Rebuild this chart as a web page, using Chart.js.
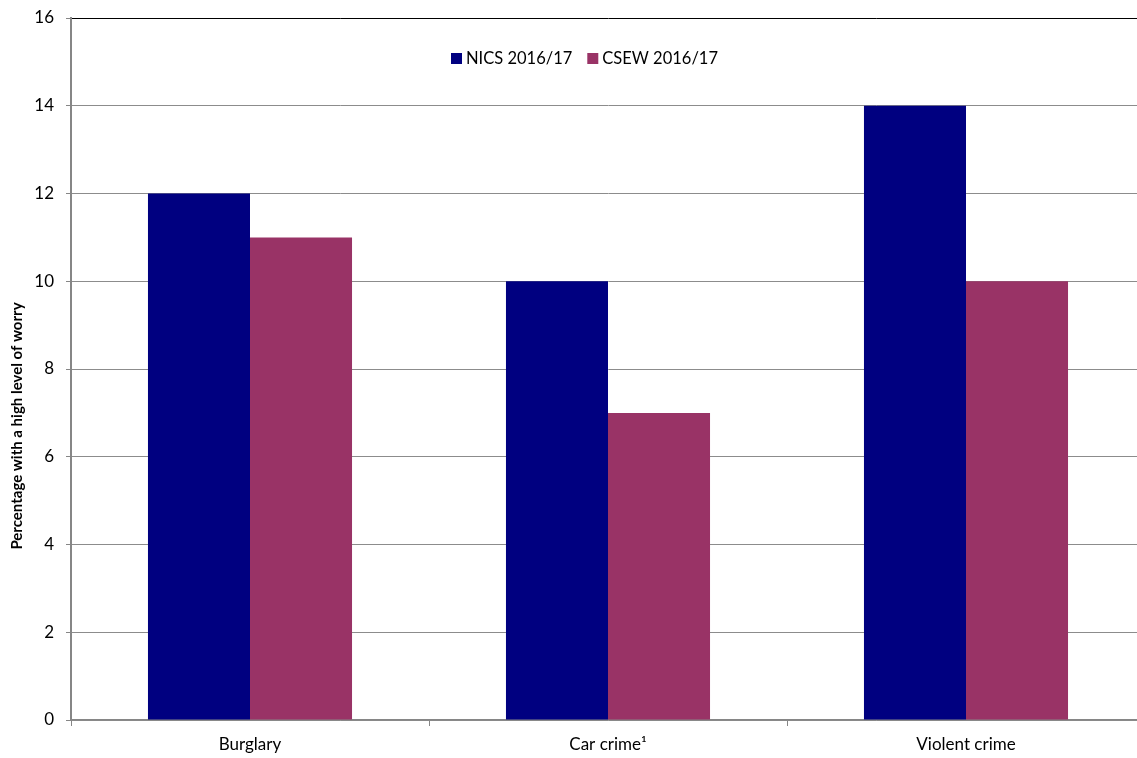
<!DOCTYPE html>
<html>
<head>
<meta charset="utf-8">
<script src="https://cdn.jsdelivr.net/npm/chart.js@4"></script>
<style>
  html, body { margin: 0; padding: 0; background: #fff; overflow: hidden; width: 1137px; height: 758px; }
  #worry-chart { position: absolute; left: 0; top: 0; }
</style>
</head>
<body>
<canvas id="worry-chart" width="1160" height="758"></canvas>
<script>
// Categorias y valores (porcentaje con alto nivel de preocupacion)
const categories = ['Burglary', 'Car crime\u00B9', 'Violent crime'];
const nicsValues = [12, 10, 14];
const csewValues = [11, 7, 10];
const seriesLabels = ['NICS 2016/17', 'CSEW 2016/17'];
const yTicks = [0, 2, 4, 6, 8, 10, 12, 14, 16];
const yTitle = 'Percentage with a high level of worry';

const FONT = 'Lato, "Open Sans", sans-serif';
const COLORS = {
  navy: '#000080',
  plum: '#993366',
  grid: '#8c8c8c',
  axis: '#868686',
};

// Leyenda dentro del area del grafico
const legendPlugin = {
  id: 'innerLegend',
  afterDraw(chart) {
    const ctx = chart.ctx;
    ctx.save();
    ctx.font = '16.5px ' + FONT;
    ctx.textBaseline = 'middle';
    let x = 451;
    const y = 58;
    chart.data.datasets.forEach(ds => {
      ctx.fillStyle = ds.backgroundColor;
      ctx.fillRect(x, y - 5, 11, 11);
      ctx.fillStyle = '#000';
      ctx.fillText(ds.label, x + 15, y + 1);
      x += 15 + ctx.measureText(ds.label).width + 15;
    });
    ctx.restore();
  }
};

// Titulo del eje Y
const yTitlePlugin = {
  id: 'yTitle',
  afterDraw(chart) {
    const ctx = chart.ctx;
    ctx.save();
    ctx.translate(17, 426);
    ctx.rotate(-Math.PI / 2);
    ctx.font = 'bold 15px ' + FONT;
    ctx.textAlign = 'center';
    ctx.textBaseline = 'middle';
    ctx.fillStyle = '#000';
    ctx.fillText(yTitle, 0, 0);
    ctx.restore();
  }
};

const chart = new Chart(document.getElementById('worry-chart').getContext('2d'), {
  type: 'bar',
  data: {
    labels: categories,
    datasets: [
      { label: seriesLabels[0], data: nicsValues, backgroundColor: COLORS.navy },
      { label: seriesLabels[1], data: csewValues, backgroundColor: COLORS.plum },
    ],
  },
  options: {
    responsive: false,
    animation: false,
    layout: { padding: { top: 0, right: 15, left: 0, bottom: 0 } },
    datasets: {
      bar: { barPercentage: 1, categoryPercentage: 0.57 },
    },
    plugins: {
      legend: { display: false },
      tooltip: { enabled: false },
    },
    scales: {
      x: {
        offset: true,
        grid: {
          offset: true,
          drawOnChartArea: false,
          drawTicks: true,
          tickLength: 6,
          color: COLORS.axis,
        },
        border: { color: COLORS.axis, width: 1.5 },
        ticks: { color: '#000', padding: 8, font: { family: FONT, size: 17 } },
        afterFit(scale) { scale.height = 38; },
      },
      y: {
        min: 0,
        max: 16,
        afterBuildTicks(scale) { scale.ticks = yTicks.map(v => ({ value: v })); },
        grid: {
          color: ctx => (ctx.tick && ctx.tick.value === 16 ? '#000' : COLORS.grid),
          tickColor: COLORS.axis,
          tickLength: 5,
        },
        border: { color: COLORS.axis, width: 2 },
        ticks: { color: '#000', padding: 12, font: { family: FONT, size: 17, lineHeight: 12 / 17 } },
        afterFit(scale) { scale.width = 71; },
      },
    },
  },
  plugins: [legendPlugin, yTitlePlugin],
});
</script>
</body>
</html>
